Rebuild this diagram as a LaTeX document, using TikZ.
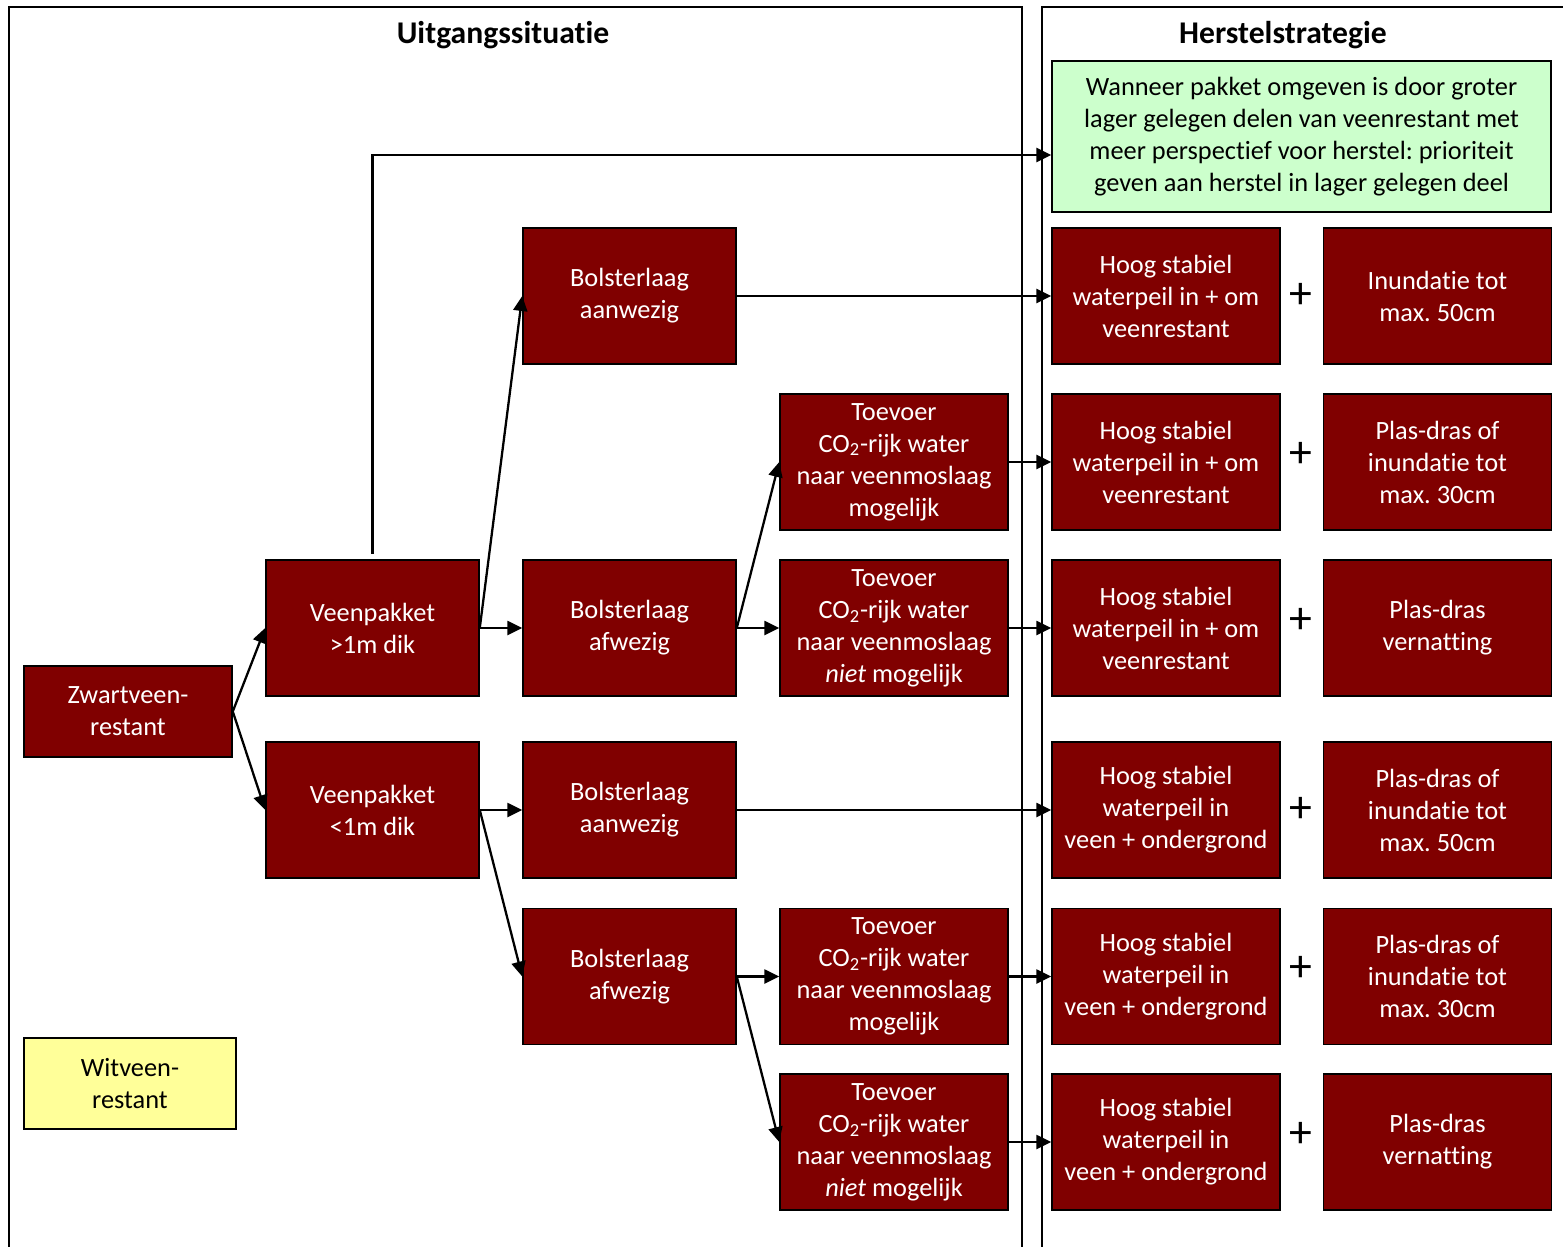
\documentclass[tikz,border=0pt]{standalone}
\usepackage{fontspec}
\setmainfont{Carlito}[Ligatures=NoCommon, RawFeature={-liga;-clig;-calt;-dlig}]
\usetikzlibrary{arrows.meta, calc}
\definecolor{maroon}{RGB}{128,0,0}
\definecolor{mint}{RGB}{204,255,204}
\definecolor{lemon}{RGB}{255,255,153}
\frenchspacing

\begin{document}
\begin{tikzpicture}[
    x=0.02cm, y=-0.02cm,
    box/.style={draw=black, line width=0.9pt, fill=maroon, text=white,
                align=center, inner sep=2pt,
                font=\fontsize{15}{18.2}\selectfont},
    sbox/.style={box, minimum width=4.26cm, minimum height=2.72cm},
    wbox/.style={box, minimum width=4.56cm, minimum height=2.72cm},
    tf/.style={-{Triangle[length=8.5pt,width=8pt]}, line width=1.3pt},
    frm/.style={line width=1.2pt},
    ttl/.style={font=\fontsize{18}{20}\selectfont\bfseries},
    pls/.style={font=\fontsize{26}{26}\selectfont, inner sep=0pt}
  ]
    \useasboundingbox (0,0) rectangle (1563,1247);

    %% Frames ─────────────────────────────────
    \draw[frm] (9,1260) -- (9,7) -- (1022,7) -- (1022,1260);
    \draw[frm] (1042,1260) -- (1042,7) -- (1580,7);
    \node[ttl] (T1) at (503,35) {Uitgangssituatie};
    \node[ttl] (T2) at (1283,35) {Herstelstrategie};

    %% Starting points ────────────────────────
    \node[box, minimum width=4.16cm, minimum height=1.82cm] (Z) at (128,711.5)
          {Zwartveen-\\restant};
    \node[box, fill=lemon, text=black, minimum width=4.24cm, minimum height=1.82cm]
          (Wv) at (130,1083.5) {Witveen-\\restant};

    %% Peat thickness ─────────────────────────
    \node[sbox] (V1) at (372.5,628) {Veenpakket\\>1m dik};
    \node[sbox] (V2) at (372.5,810) {Veenpakket\\<1m dik};

    %% Bolster layer ──────────────────────────
    \node[sbox] (B1) at (629.5,296)   {Bolsterlaag\\aanwezig};
    \node[sbox] (B2) at (629.5,628)   {Bolsterlaag\\afwezig};
    \node[sbox] (B3) at (629.5,810)   {Bolsterlaag\\aanwezig};
    \node[sbox] (B4) at (629.5,976.5) {Bolsterlaag\\afwezig};

    %% CO2 supply ─────────────────────────────
    \node[wbox] (C1) at (894,462)
          {Toevoer\\CO\textsubscript{2}-rijk water\\naar veenmoslaag\\mogelijk};
    \node[wbox] (C2) at (894,628)
          {Toevoer\\CO\textsubscript{2}-rijk water\\naar veenmoslaag\\\textit{niet} mogelijk};
    \node[wbox] (C3) at (894,976.5)
          {Toevoer\\CO\textsubscript{2}-rijk water\\naar veenmoslaag\\mogelijk};
    \node[wbox] (C4) at (894,1142)
          {Toevoer\\CO\textsubscript{2}-rijk water\\naar veenmoslaag\\\textit{niet} mogelijk};

    %% Strategy ───────────────────────────────
    \node[box, fill=mint, text=black, minimum width=9.98cm, minimum height=3.02cm]
          (G) at (1301.5,136.5)
          {Wanneer pakket omgeven is door groter\\lager gelegen delen van veenrestant met\\
           meer perspectief voor herstel: prioriteit\\geven aan herstel in lager gelegen deel};

    \node[wbox] (H1) at (1166,296)    {Hoog stabiel\\waterpeil in + om\\veenrestant};
    \node[wbox] (H2) at (1166,462)    {Hoog stabiel\\waterpeil in + om\\veenrestant};
    \node[wbox] (H3) at (1166,628)    {Hoog stabiel\\waterpeil in + om\\veenrestant};
    \node[wbox] (H4) at (1166,810)    {Hoog stabiel\\waterpeil in\\veen + ondergrond};
    \node[wbox] (H5) at (1166,976.5)  {Hoog stabiel\\waterpeil in\\veen + ondergrond};
    \node[wbox] (H6) at (1166,1142)   {Hoog stabiel\\waterpeil in\\veen + ondergrond};

    \node[wbox] (R1) at (1437.5,296)   {Inundatie tot\\max. 50cm};
    \node[wbox] (R2) at (1437.5,462)   {Plas-dras of\\inundatie tot\\max. 30cm};
    \node[wbox] (R3) at (1437.5,628)   {Plas-dras\\vernatting};
    \node[wbox] (R4) at (1437.5,810)   {Plas-dras of\\inundatie tot\\max. 50cm};
    \node[wbox] (R5) at (1437.5,976.5) {Plas-dras of\\inundatie tot\\max. 30cm};
    \node[wbox] (R6) at (1437.5,1142)  {Plas-dras\\vernatting};

    \foreach \i/\y in {1/296,2/455,3/621,4/810,5/969,6/1135}
      \node[pls] (P\i) at (1301,\y) {+};

    %% Connectors ─────────────────────────────
    \draw[tf] (Z.east) -- (V1.west);
    \draw[tf] (Z.east) -- (V2.west);

    \draw[tf] ([yshift=3pt]V1.north) |- ([yshift=-0.37cm]G.west);
    \draw[tf] (V1.east) -- (B1.west);
    \draw[tf] (V1.east) -- (B2.west);
    \draw[tf] (V2.east) -- (B3.west);
    \draw[tf] (V2.east) -- (B4.west);

    \draw[tf] (B1.east) -- (H1.west);
    \draw[tf] (B2.east) -- (C1.west);
    \draw[tf] (B2.east) -- (C2.west);
    \draw[tf] (B3.east) -- (H4.west);
    \draw[tf] (B4.east) -- (C3.west);
    \draw[tf] (B4.east) -- (C4.west);

    \draw[tf] (C1.east) -- (H2.west);
    \draw[tf] (C2.east) -- (H3.west);
    \draw[tf] (C3.east) -- (H5.west);
    \draw[tf] (C4.east) -- (H6.west);

  \end{tikzpicture}
\end{document}
